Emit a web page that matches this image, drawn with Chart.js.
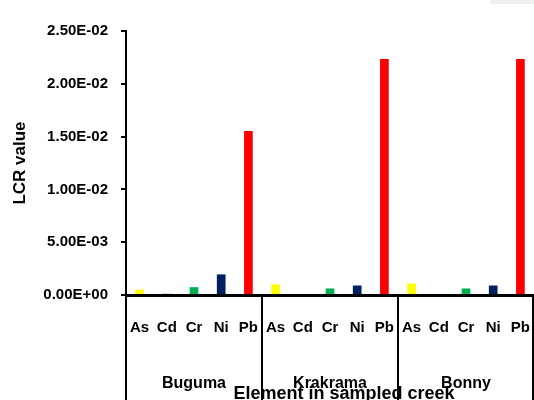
<!DOCTYPE html>
<html>
<head>
<meta charset="utf-8">
<script src="https://cdn.jsdelivr.net/npm/chart.js@4.4.1/dist/chart.umd.min.js"></script>
<style>
  body { margin: 0; background: #fff; }
  #wrap { position: relative; width: 534px; height: 400px; }
  #corner { position: absolute; left: 490px; top: 0; width: 44px; height: 4px; background: #f0f0f0; }
</style>
</head>
<body>
<div id="wrap">
  <canvas id="myChart" width="534" height="400"></canvas>
  <div id="corner"></div>
</div>
<script>
// data
const elements = ['As', 'Cd', 'Cr', 'Ni', 'Pb'];
const creeks = ['Buguma', 'Krakrama', 'Bonny'];
const lcrBuguma = [5.2e-4, 1.4e-4, 7.4e-4, 1.95e-3, 1.554e-2];
const lcrKrakrama = [1.0e-3, 0, 6.2e-4, 9.0e-4, 2.234e-2];
const lcrBonny = [1.09e-3, 0, 6.2e-4, 9.0e-4, 2.234e-2];
const elementColors = ['#ffff00', '#95b3d7', '#00b050', '#002060', '#ff0000'];
const yTickLabels = ['0.00E+00', '5.00E-03', '1.00E-02', '1.50E-02', '2.00E-02', '2.50E-02'];
const xTitle = 'Element in sampled creek';
const yTitle = 'LCR value';

Chart.defaults.font.family = "'Liberation Sans', Arial, sans-serif";
Chart.defaults.color = '#000';

const labels = creeks.flatMap(() => elements);
const values = [...lcrBuguma, ...lcrKrakrama, ...lcrBonny];
const colors = creeks.flatMap(() => elementColors);

// separators + creek names under the element labels
const groupPlugin = {
    id: 'groupLabels',
    afterDraw(chart) {
        const ctx = chart.ctx;
        const x = chart.scales.x;
        ctx.save();
        ctx.strokeStyle = '#000';
        ctx.lineWidth = 2;
        for (let g = 0; g <= creeks.length; g++) {
            let px = x.getPixelForValue(g * elements.length - 0.5);
            px = Math.min(px, chart.width - 1);
            ctx.beginPath();
            ctx.moveTo(px, x.top);
            ctx.lineTo(px, chart.height);
            ctx.stroke();
        }
        ctx.fillStyle = '#000';
        ctx.textAlign = 'center';
        ctx.textBaseline = 'alphabetic';
        ctx.font = "bold 16px 'Liberation Sans', Arial, sans-serif";
        creeks.forEach((c, g) => {
            const cx = x.getPixelForValue(g * elements.length + 2);
            ctx.fillText(c, cx, 388);
        });
        ctx.font = "bold 18px 'Liberation Sans', Arial, sans-serif";
        ctx.fillText(xTitle, (x.left + x.right) / 2 + 14, 399);
        ctx.restore();
    }
};

let ctx = document.getElementById('myChart');
let myChart = new Chart(ctx, {
    type: 'bar',
    data: {
        labels: labels,
        datasets: [{
            data: values,
            backgroundColor: colors,
            borderWidth: 0,
            barPercentage: 0.32,
            categoryPercentage: 1
        }]
    },
    options: {
        responsive: false,
        animation: false,
        layout: { padding: { top: 31, right: 0, bottom: 0, left: 0 } },
        plugins: {
            legend: { display: false },
            tooltip: { enabled: false }
        },
        scales: {
            x: {
                offset: true,
                grid: {
                    display: true,
                    drawOnChartArea: false,
                    drawTicks: true,
                    tickLength: 21,
                    color: 'rgba(0,0,0,0)'
                },
                border: { display: true, color: '#000', width: 3 },
                ticks: {
                    font: { size: 15, weight: 'bold' },
                    color: '#000',
                    padding: 3,
                    maxRotation: 0,
                    autoSkip: false
                },
                afterFit(scale) { scale.height = 105; }
            },
            y: {
                min: 0,
                max: 0.025,
                border: { display: true, color: '#000', width: 2 },
                grid: {
                    drawOnChartArea: false,
                    drawTicks: true,
                    tickLength: 5,
                    color: '#000',
                    lineWidth: 2
                },
                ticks: {
                    stepSize: 0.005,
                    font: { size: 15, weight: 'bold' },
                    color: '#000',
                    padding: 13,
                    callback: (v, i) => yTickLabels[i]
                },
                title: {
                    display: true,
                    text: yTitle,
                    font: { size: 17, weight: 'bold' },
                    color: '#000',
                    padding: { top: 10, bottom: 0 }
                },
                afterFit(scale) { scale.width = 126; }
            }
        }
    },
    plugins: [groupPlugin]
});
</script>
</body>
</html>
